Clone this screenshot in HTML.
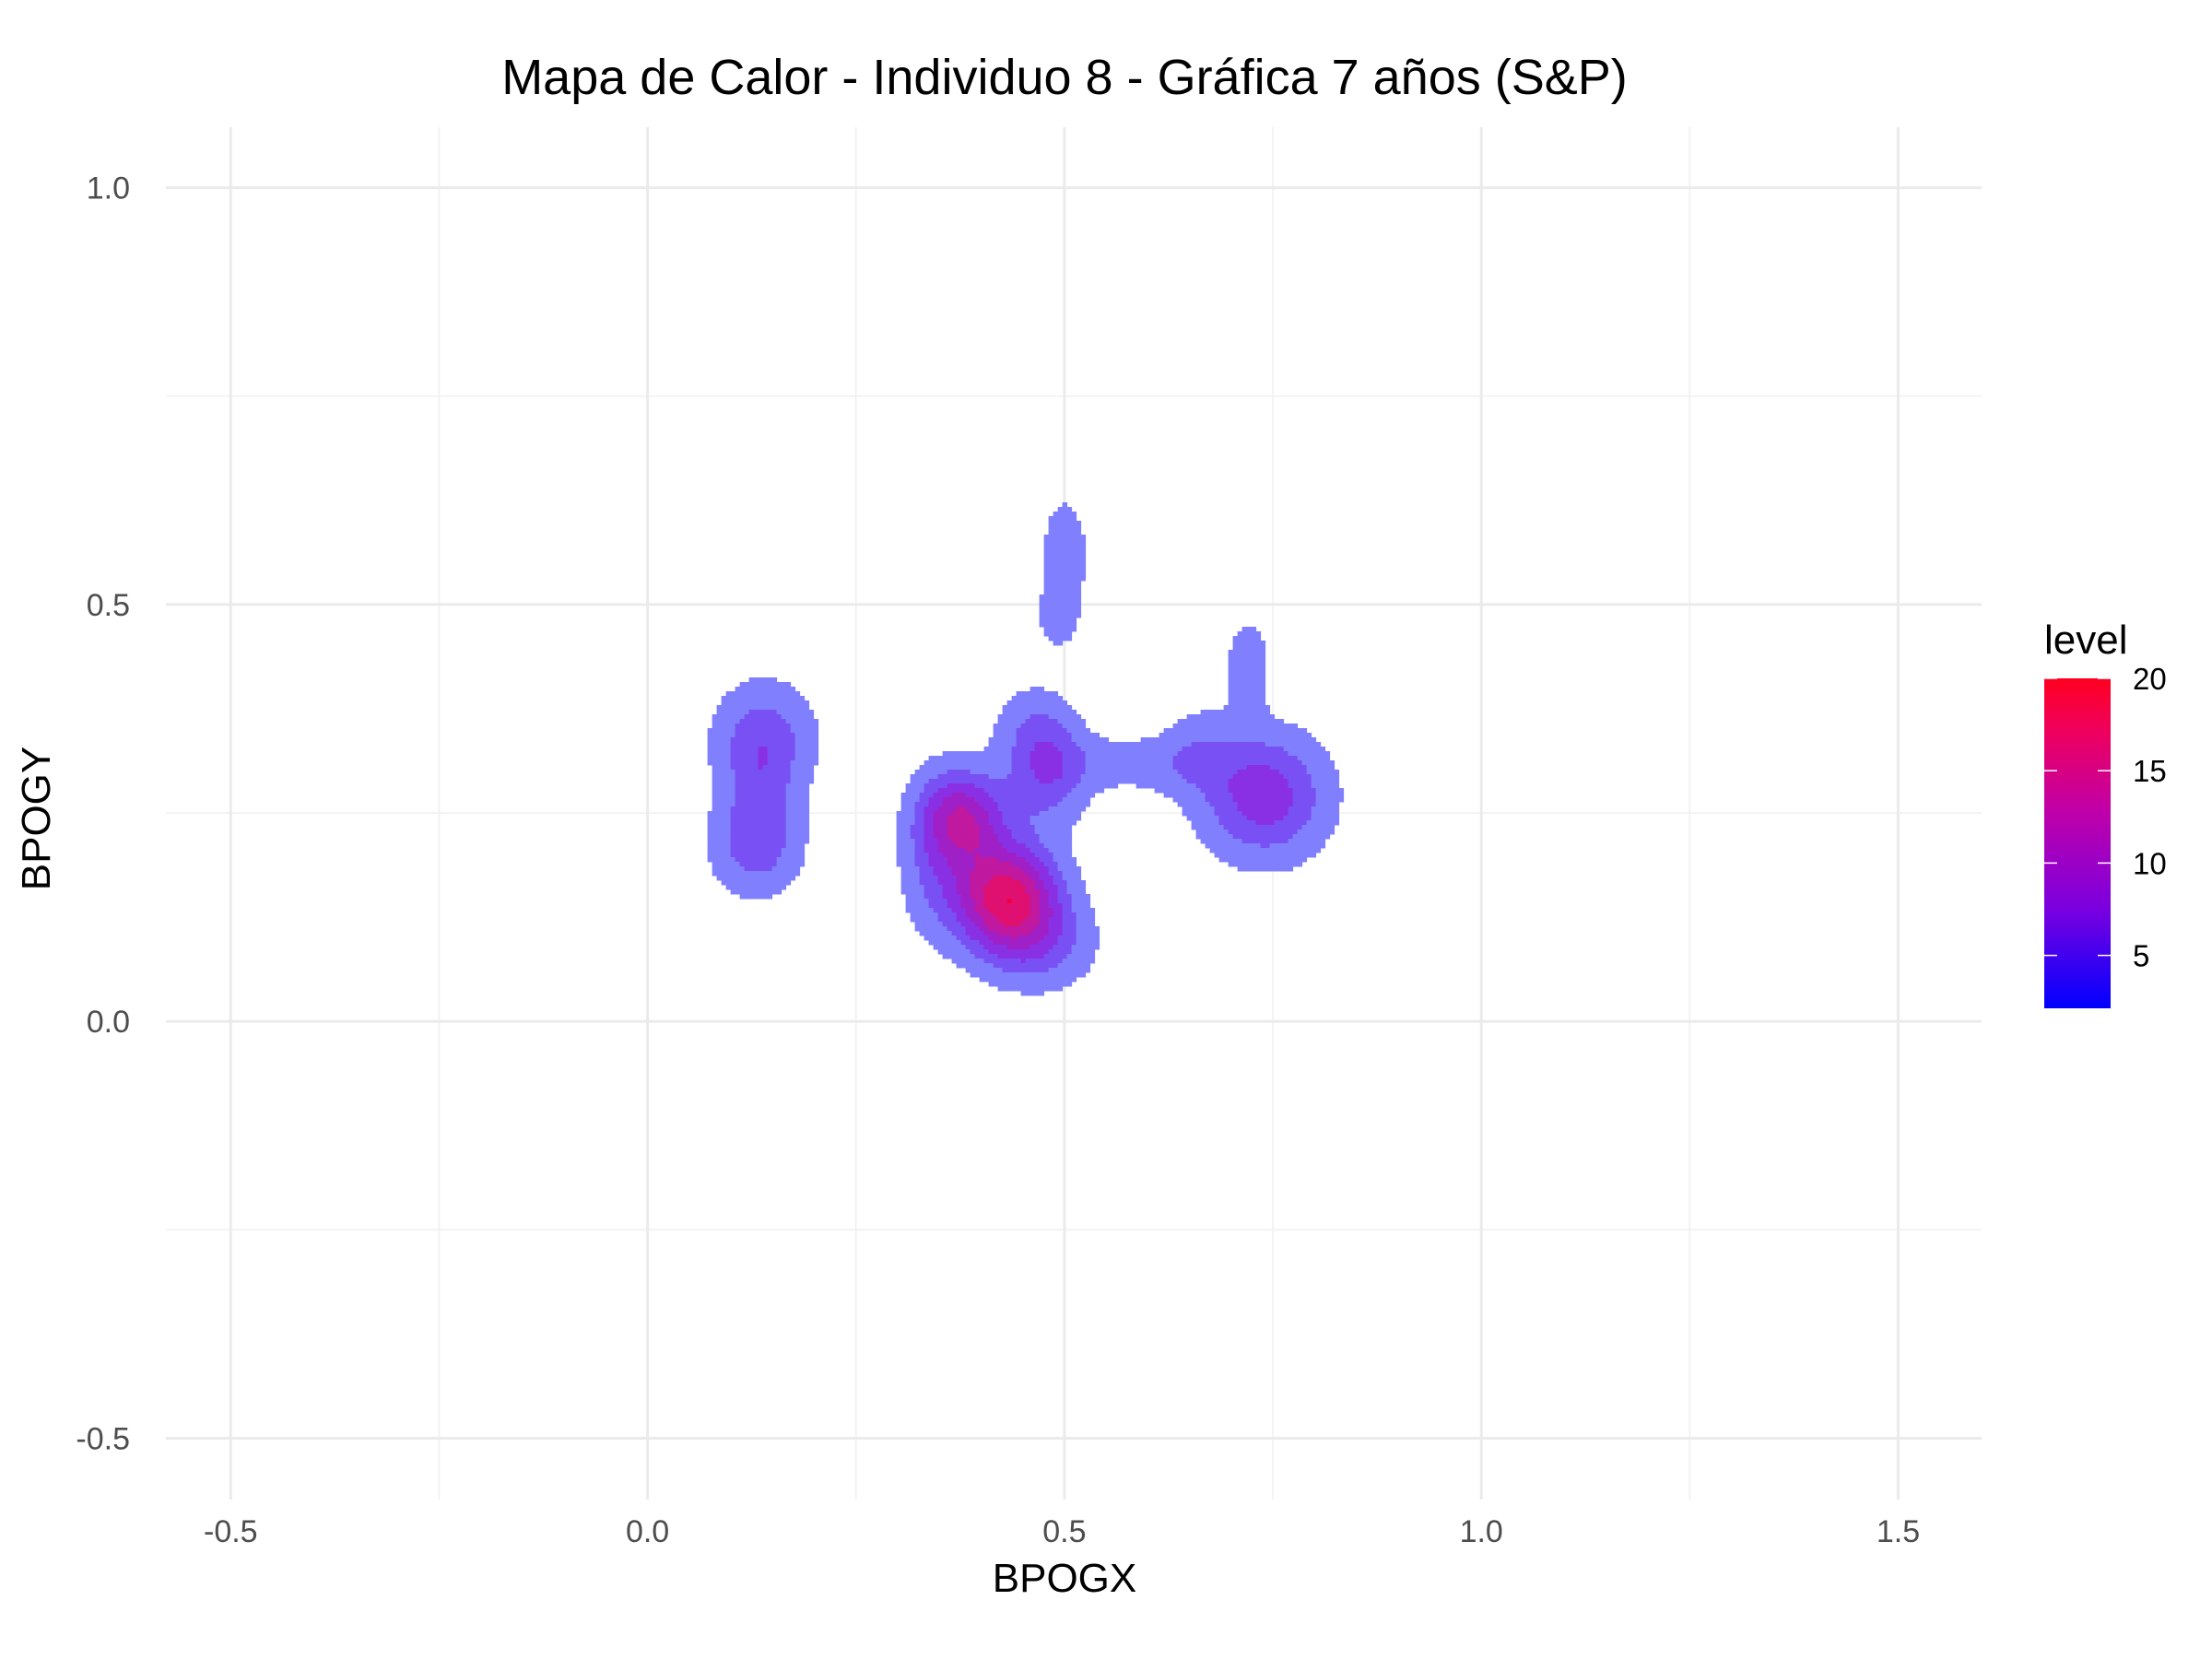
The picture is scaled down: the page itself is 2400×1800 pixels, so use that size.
<!DOCTYPE html>
<html><head><meta charset="utf-8">
<style>
html,body{margin:0;padding:0;background:#fff;}
svg{display:block;font-family:"Liberation Sans",sans-serif;}
</style></head>
<body>
<svg id="chart" width="2400" height="1800" viewBox="0 0 2400 1800" xmlns="http://www.w3.org/2000/svg">
<rect width="2400" height="1800" fill="#fff"/>
<g id="grid"></g>
<g id="marks"></g>
<g id="axes"></g>
<text x="1155" y="102" font-size="54" text-anchor="middle" fill="#000">Mapa de Calor - Individuo 8 - Gráfica 7 años (S&amp;P)</text>
<text x="1155" y="1727" font-size="44" text-anchor="middle" fill="#000">BPOGX</text>
<text transform="translate(54,888) rotate(-90)" font-size="44" text-anchor="middle" fill="#000">BPOGY</text>
<g id="legend">
<text x="2218" y="709" font-size="44" fill="#000">level</text>
<defs><linearGradient id="lg" x1="0" y1="1" x2="0" y2="0">
<stop offset="0" stop-color="#0000ff"/><stop offset="0.3" stop-color="#7a00e0"/><stop offset="0.6" stop-color="#c000a8"/><stop offset="0.85" stop-color="#f0005a"/><stop offset="1" stop-color="#ff0020"/></linearGradient></defs>
<rect x="2218" y="736" width="72" height="358" fill="url(#lg)"/>
</g>
</svg>
<script>
const xTicks=[-0.5,0,0.5,1,1.5];
const xTickLabels=["-0.5","0.0","0.5","1.0","1.5"];
const yTicks=[-0.5,0,0.5,1];
const yTickLabels=["-0.5","0.0","0.5","1.0"];
const xMinor=[-0.25,0.25,0.75,1.25];
const yMinor=[-0.25,0.25,0.75];
const legendLevels=[5,10,15,20];
// density components
const compX=[0.14,0.13,0.38,0.43,0.48,0.47,0.74,0.72,0.50,0.59,0.34,0.135,0.46,0.49,0.66];
const compY=[0.34,0.21,0.245,0.15,0.30,0.09,0.27,0.43,0.56,0.31,0.20,0.28,0.36,0.48,0.33];
const compSX=[0.045,0.04,0.035,0.045,0.035,0.05,0.055,0.02,0.022,0.06,0.03,0.03,0.035,0.02,0.03];
const compSY=[0.05,0.045,0.04,0.045,0.045,0.04,0.055,0.04,0.055,0.025,0.07,0.05,0.035,0.03,0.04];
const compW=[6,6,11,16,7,5,9,4,4,3.5,4,2.5,3,2.5,2.5];
const bandLevels=[2.2,5,7.5,10,12.5,15,17.5,19];
const bandColors=["#8080ff","#7850f4","#8a30e4","#a020c8","#c0189e","#e01070","#f40040","#ff0020"];

const NS="http://www.w3.org/2000/svg";
const X0=702.6,Y0=1108.2,U=904.6;
const PL=180,PR=2150,PT=138,PB=1627;
const sx=v=>X0+v*U, sy=v=>Y0-v*U;
const ix=p=>(p-X0)/U, iy=p=>(Y0-p)/U;
function mk(tag,attrs,parent){const e=document.createElementNS(NS,tag);for(const k in attrs)e.setAttribute(k,attrs[k]);parent.appendChild(e);return e;}
const grid=document.getElementById('grid'),axes=document.getElementById('axes'),marks=document.getElementById('marks'),legend=document.getElementById('legend');
xMinor.forEach(v=>{const l=mk('line',{x1:sx(v),x2:sx(v),y1:PT,y2:PB,stroke:'#f0f0f0','stroke-width':1.6},grid);

});
yMinor.forEach(v=>{const l=mk('line',{x1:PL,x2:PR,y1:sy(v),y2:sy(v),stroke:'#f0f0f0','stroke-width':1.6},grid);

});
xTicks.forEach((v,i)=>{const l=mk('line',{x1:sx(v),x2:sx(v),y1:PT,y2:PB,stroke:'#ebebeb','stroke-width':3},grid);


const t=mk('text',{x:sx(v),y:1673,'font-size':34,'text-anchor':'middle',fill:'#4d4d4d'},axes);t.textContent=xTickLabels[i];

});
yTicks.forEach((v,i)=>{const l=mk('line',{x1:PL,x2:PR,y1:sy(v),y2:sy(v),stroke:'#ebebeb','stroke-width':3},grid);


const t=mk('text',{x:141,y:sy(v)+12,'font-size':34,'text-anchor':'end',fill:'#4d4d4d'},axes);t.textContent=yTickLabels[i];

});
// density grid
function dens(x,y){let s=0;for(let i=0;i<compX.length;i++){const dx=(x-compX[i])/compSX[i],dy=(y-compY[i])/compSY[i];s+=compW[i]*Math.exp(-0.5*(dx*dx+dy*dy));}return s;}
const cell=5;
for(let px=sx(0);px<sx(0.9);px+=cell){for(let py=sy(0.7);py<sy(0);py+=cell){
 const d=dens(ix(px+cell/2),iy(py+cell/2));let b=-1;
 for(let k=0;k<bandLevels.length;k++)if(d>=bandLevels[k])b=k;
 if(b<0)continue;
 const r=mk('rect',{x:px.toFixed(1),y:py.toFixed(1),width:cell+0.5,height:cell+0.5,fill:bandColors[b]},marks);
 
 
}}
// legend ticks
const lvTop=736,lvPer=100.2/5;
legendLevels.forEach(v=>{const y=lvTop+(20-v)*lvPer;
const a=mk('line',{x1:2218,x2:2232,y1:y,y2:y,stroke:'#fff','stroke-width':1.5},legend);


const b=mk('line',{x1:2276,x2:2290,y1:y,y2:y,stroke:'#fff','stroke-width':1.5},legend);


const t=mk('text',{x:2314,y:y+12,'font-size':33,fill:'#000'},legend);t.textContent=v;

});
</script>
</body></html>
